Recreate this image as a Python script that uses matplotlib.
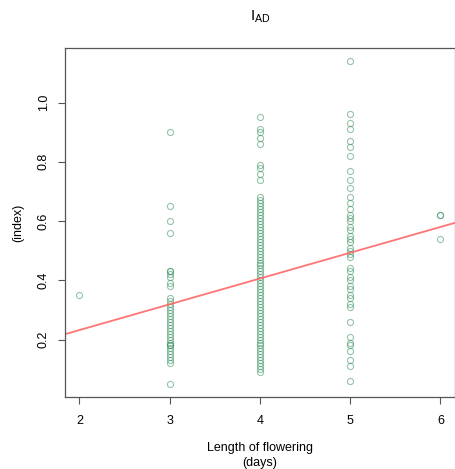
import matplotlib.pyplot as plt
import numpy as np

plt.rcParams['font.family'] = ['Liberation Sans', 'DejaVu Sans']
plt.rcParams['mathtext.fontset'] = 'custom'
plt.rcParams['mathtext.rm'] = 'Liberation Sans'

# I_AD index by length of flowering (days)
iad_2 = [0.35]
iad_3 = [0.90, 0.65, 0.60, 0.56, 0.43, 0.43, 0.42, 0.41, 0.39, 0.38,
         0.34, 0.33, 0.32, 0.31, 0.30, 0.29, 0.28, 0.27, 0.26, 0.25,
         0.24, 0.23, 0.22, 0.21, 0.20, 0.19, 0.18, 0.18, 0.17, 0.16,
         0.15, 0.14, 0.13, 0.12, 0.05]
iad_4 = [0.95, 0.91, 0.90, 0.88, 0.86, 0.79, 0.78, 0.76, 0.74, 0.68,
         0.67, 0.66, 0.65, 0.64, 0.63, 0.62, 0.61, 0.60, 0.59, 0.58,
         0.57, 0.56, 0.55, 0.54, 0.53, 0.52, 0.51, 0.50, 0.49, 0.48,
         0.47, 0.46, 0.45, 0.44, 0.43, 0.42, 0.41, 0.40, 0.39, 0.38,
         0.37, 0.36, 0.35, 0.34, 0.33, 0.32, 0.31, 0.30, 0.29, 0.28,
         0.27, 0.26, 0.25, 0.24, 0.23, 0.22, 0.21, 0.20, 0.19, 0.18,
         0.17, 0.16, 0.15, 0.14, 0.13, 0.12, 0.11, 0.10, 0.09]
iad_5 = [1.14, 0.96, 0.93, 0.91, 0.87, 0.85, 0.82, 0.77, 0.74, 0.71,
         0.68, 0.66, 0.64, 0.62, 0.61, 0.60, 0.58, 0.57, 0.55, 0.54,
         0.53, 0.51, 0.50, 0.49, 0.48, 0.44, 0.43, 0.41, 0.40, 0.38,
         0.37, 0.35, 0.34, 0.32, 0.31, 0.26, 0.21, 0.19, 0.18, 0.16,
         0.13, 0.11, 0.06]
iad_6 = [0.62, 0.62, 0.54]

days = [2, 3, 4, 5, 6]
groups = [iad_2, iad_3, iad_4, iad_5, iad_6]

# fitted linear trend
fit_intercept = 0.058
fit_slope = 0.0870

x = np.concatenate([[d] * len(g) for d, g in zip(days, groups)])
y = np.concatenate(groups)

fig = plt.figure(figsize=(4.56, 4.69), dpi=100)
ax = fig.add_axes([0.1425, 0.1535, 0.855, 0.744])

ax.plot(x, y, 'o', mfc='none', mec='#2e8b57', mew=0.8, ms=4.4, alpha=0.5)

ax.set_xlim(1.84, 6.16)
ax.set_ylim(0.006, 1.184)
xl = np.array(ax.get_xlim())
ax.plot(xl, fit_intercept + fit_slope * xl, color='#ff6666', lw=1.3, alpha=0.9)

ax.set_xticks(days)
ax.set_yticks([0.2, 0.4, 0.6, 0.8, 1.0])
ax.set_yticklabels(['0.2', '0.4', '0.6', '0.8', '1.0'], rotation=90, va='center')
ax.tick_params(direction='out', length=5, width=0.8, color='#555555',
               labelsize=9)
ax.tick_params(axis='x', pad=8)
ax.tick_params(axis='y', pad=6)
for s in ax.spines.values():
    s.set_color('#555555')
    s.set_linewidth(0.9)

ax.set_xlabel('Length of flowering\n(days)', fontsize=9, labelpad=11,
              linespacing=1.25)
ax.set_ylabel('(index)', fontsize=9, labelpad=10)
ax.set_title(r'$\mathrm{I}_{\mathrm{AD}}$', fontsize=11, pad=20)

fig.savefig('out.png', dpi=100)
